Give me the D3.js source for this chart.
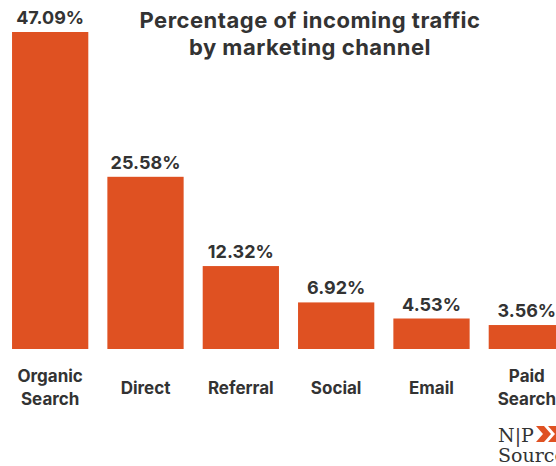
<!DOCTYPE html>
<html>
<head>
<meta charset="utf-8">
<script src="https://cdn.jsdelivr.net/npm/d3@7"></script>
<style>
  body { margin: 0; background: #fff; }
  svg { display: block; }
  text { font-family: "Inter", "Open Sans", sans-serif; fill: #333333; }
</style>
</head>
<body>
<div id="chart"></div>
<script>
// data
var channels = ["Organic Search", "Direct", "Referral", "Social", "Email", "Paid Search"];
var shares = [47.09, 25.58, 12.32, 6.92, 4.53, 3.56];
var titleLines = ["Percentage of incoming traffic", "by marketing channel"];

var width = 556, height = 466;
var barColour = "#DF5122";

var svg = d3.select("#chart").append("svg")
    .attr("width", width)
    .attr("height", height);

var x = d3.scaleBand()
    .domain(channels)
    .range([2.5, 574.5])
    .paddingInner(0.2)
    .paddingOuter(0.1);

var y = d3.scaleLinear()
    .domain([0, 47.09])
    .range([349, 32]);

// bars
svg.selectAll(".bar")
    .data(channels)
    .join("rect")
    .attr("class", "bar")
    .attr("x", d => x(d))
    .attr("width", x.bandwidth())
    .attr("y", (d, i) => y(shares[i]))
    .attr("height", (d, i) => y(0) - y(shares[i]))
    .attr("fill", barColour);

// value labels
svg.selectAll(".val")
    .data(channels)
    .join("text")
    .attr("class", "val")
    .attr("x", d => x(d) + x.bandwidth() / 2)
    .attr("y", (d, i) => y(shares[i]) - 8)
    .attr("text-anchor", "middle")
    .style("font-size", "18px")
    .style("font-weight", 700)
    .text((d, i) => shares[i].toFixed(2) + "%");

// category labels, two-word ones split on two lines
svg.selectAll(".cat")
    .data(channels)
    .join("text")
    .attr("class", "cat")
    .attr("text-anchor", "middle")
    .style("font-size", "17px")
    .style("font-weight", 700)
    .each(function(d) {
        var words = d.split(" ");
        var t = d3.select(this);
        var cx = x(d) + x.bandwidth() / 2;
        if (words.length == 1) {
            t.append("tspan").attr("x", cx).attr("y", 394).text(d);
        } else {
            t.append("tspan").attr("x", cx).attr("y", 382).text(words[0]);
            t.append("tspan").attr("x", cx).attr("y", 405).text(words[1]);
        }
    });

// title
svg.append("text")
    .attr("text-anchor", "middle")
    .style("font-size", "22px")
    .style("font-weight", 700)
    .style("letter-spacing", "0.5px")
    .selectAll("tspan")
    .data(titleLines)
    .join("tspan")
    .attr("x", 310)
    .attr("y", (d, i) => 28 + i * 27)
    .text(d => d);

// logo (cut off at the right edge, as in the original)
var logo = svg.append("g").attr("transform", "translate(498,0)");
logo.append("text")
    .attr("x", 0).attr("y", 442)
    .style("font-family", "'DejaVu Serif', 'Liberation Serif', serif")
    .style("font-size", "19px")
    .text("N|P");
logo.append("text")
    .attr("x", 0).attr("y", 462)
    .style("font-family", "'DejaVu Serif', 'Liberation Serif', serif")
    .style("font-size", "19px")
    .text("Source");
logo.append("path")
    .attr("d", "M38,426 L46,426 L53,434 L46,442 L38,442 L45,434 Z M50,426 L58,426 L65,434 L58,442 L50,442 L57,434 Z")
    .attr("fill", barColour);
</script>
</body>
</html>
